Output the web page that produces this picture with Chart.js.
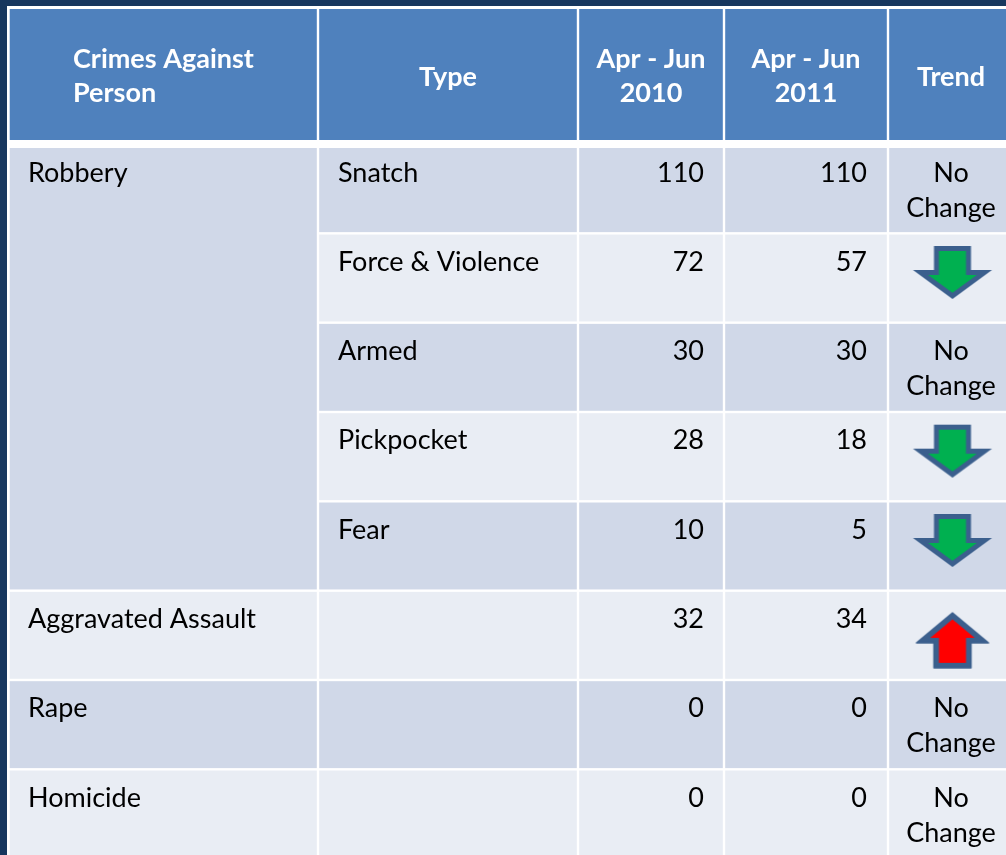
<!DOCTYPE html>
<html>
<head>
<meta charset="utf-8">
<script src="https://cdn.jsdelivr.net/npm/chart.js@4.4.0/dist/chart.umd.min.js"></script>
<style>
  html, body { margin: 0; padding: 0; background: #17375e; overflow: hidden; }
  #tbl { display: block; }
</style>
</head>
<body>
<canvas id="tbl" width="1006" height="855"></canvas>
<script>
/* ---------- DATA ---------- */
const headers = [["Crimes Against", "Person"], ["Type"], ["Apr - Jun", "2010"], ["Apr - Jun", "2011"], ["Trend"]];
const categories = ["Robbery", "Robbery", "Robbery", "Robbery", "Robbery", "Aggravated Assault", "Rape", "Homicide"];
const types = ["Snatch", "Force & Violence", "Armed", "Pickpocket", "Fear", "", "", ""];
const apr2010 = [110, 72, 30, 28, 10, 32, 0, 0];
const apr2011 = [110, 57, 30, 18, 5, 34, 0, 0];
const trends = ["No Change", "down", "No Change", "down", "down", "up", "No Change", "No Change"];

/* ---------- LAYOUT ---------- */
const W = 1006, H = 855;
const NAVY = "#17375e", HEAD = "#4f81bd", ROW_A = "#d0d8e8", ROW_B = "#e9edf4";
const colLines = [8.5, 318, 578, 724, 888, 1014];
const headTop = 9, headLine = 144, headGap = 4, rowPitch = 89.33, half = 1.2;
const FONT = "27px Lato", FONT_B = "bold 27px Lato";

const rowLine = k => headLine + k * rowPitch;
const rowTop = k => (k === 0 ? headLine + headGap : rowLine(k) + half);
const rowBottom = k => rowLine(k + 1) - half;
const rowMid = k => (rowLine(k) + rowLine(k + 1)) / 2;
const colMid = c => (colLines[c] + colLines[c + 1]) / 2;

/* ---------- ARROWS ---------- */
function poly(ctx, cx, pts) {
  ctx.beginPath();
  pts.forEach(([px, py], i) => (i ? ctx.lineTo(cx + px, py) : ctx.moveTo(cx + px, py)));
  ctx.closePath();
}

function makeArrow(dir) {
  const c = document.createElement("canvas");
  c.width = 86; c.height = 60;
  const g = c.getContext("2d");
  const cx = 43;
  g.translate(0, 3);
  g.fillStyle = "#3b5f8d";
  g.strokeStyle = "#3b5f8d";
  g.lineJoin = "round";
  g.lineWidth = 1.5;
  if (dir === "down") {
    poly(g, cx, [[-18.5, 0], [18.5, 0], [18.5, 24], [39.5, 24], [0, 53], [-39.5, 24], [-18.5, 24]]);
    g.fill();
    g.fillStyle = "#00b050";
    poly(g, cx, [[-13.5, 5], [13.5, 5], [13.5, 29], [24.3, 29], [0, 46.8], [-24.3, 29], [-13.5, 29]]);
    g.fill();
  } else {
    poly(g, cx, [[0, 0], [36, 30], [18.5, 30], [18.5, 55], [-18.5, 55], [-18.5, 30], [-36, 30]]);
    g.fill(); g.stroke();
    g.fillStyle = "#ff0000";
    poly(g, cx, [[0, 6.5], [22.2, 25], [13.5, 25], [13.5, 50], [-13.5, 50], [-13.5, 25], [-22.2, 25]]);
    g.fill();
  }
  return c;
}

const trendX = colMid(4) + 1.5;
const arrowPoints = (dir, dy) =>
  trends.map((t, i) => (t === dir ? { x: trendX, y: rowMid(i) + dy } : null)).filter(p => p);

/* ---------- TABLE PLUGIN ---------- */
const tablePlugin = {
  id: "tableDraw",
  beforeDatasetsDraw(chart) {
    const { ctx, scales: { x, y } } = chart;
    const px = v => x.getPixelForValue(v);
    const py = v => y.getPixelForValue(v);
    const cell = (c0, c1, y0, y1, color) => {
      ctx.fillStyle = color;
      ctx.fillRect(px(colLines[c0] + half), py(y0), px(colLines[c1] - half) - px(colLines[c0] + half), py(y1) - py(y0));
    };

    ctx.save();
    ctx.fillStyle = NAVY;
    ctx.fillRect(0, 0, chart.width, chart.height);
    ctx.fillStyle = "#ffffff";
    ctx.fillRect(px(7), py(6), px(W + 20) - px(7), py(H + 20) - py(6));

    // header
    for (let c = 0; c < headers.length; c++) cell(c, c + 1, headTop, headLine - headGap, HEAD);

    // body cells
    const n = categories.length;
    let k = 0;
    while (k < n) {
      let span = 1;
      while (k + span < n && categories[k + span] === categories[k]) span++;
      cell(0, 1, rowTop(k), rowBottom(k + span - 1), k % 2 ? ROW_B : ROW_A);
      k += span;
    }
    for (let r = 0; r < n; r++) {
      for (let c = 1; c < 5; c++) cell(c, c + 1, rowTop(r), rowBottom(r), r % 2 ? ROW_B : ROW_A);
    }

    // header text
    ctx.fillStyle = "#ffffff";
    ctx.font = FONT_B;
    ctx.textBaseline = "alphabetic";
    headers.forEach((lines, c) => {
      const base = lines.length === 2 ? [68, 102] : [86];
      lines.forEach((t, j) => {
        if (c === 0) {
          ctx.textAlign = "left";
          ctx.fillText(t, px(colLines[0] + 64.5), py(base[j]));
        } else {
          ctx.textAlign = "center";
          ctx.fillText(t, px(colMid(c)), py(base[j]));
        }
      });
    });

    // body text
    ctx.fillStyle = "#000000";
    ctx.font = FONT;
    for (let r = 0; r < n; r++) {
      const b = rowLine(r) + 37.5;
      if (r === 0 || categories[r] !== categories[r - 1]) {
        ctx.textAlign = "left";
        ctx.fillText(categories[r], px(colLines[0] + 19.5), py(b));
      }
      ctx.textAlign = "left";
      ctx.fillText(types[r], px(colLines[1] + 20), py(b));
      ctx.textAlign = "right";
      ctx.fillText(String(apr2010[r]), px(colLines[3] - 20), py(b));
      ctx.fillText(String(apr2011[r]), px(colLines[4] - 21), py(b));
      if (trends[r] === "No Change") {
        ctx.textAlign = "center";
        ctx.fillText("No", px(colMid(4)), py(b));
        ctx.fillText("Change", px(colMid(4)), py(b + 35));
      }
    }
    ctx.restore();
  }
};

/* ---------- CHART ---------- */
function build() {
  new Chart(document.getElementById("tbl"), {
    type: "scatter",
    data: {
      datasets: [
        { label: "Down", data: arrowPoints("down", -5), pointStyle: makeArrow("down"), pointRadius: 1, clip: false },
        { label: "Up", data: arrowPoints("up", 4.5), pointStyle: makeArrow("up"), pointRadius: 1, clip: false }
      ]
    },
    options: {
      responsive: false,
      animation: false,
      devicePixelRatio: 1,
      layout: { padding: 0, autoPadding: false },
      plugins: { legend: { display: false }, tooltip: { enabled: false } },
      scales: {
        x: { type: "linear", min: 0, max: W, display: false },
        y: { type: "linear", min: 0, max: H, reverse: true, display: false }
      }
    },
    plugins: [tablePlugin]
  });
}

Promise.all([document.fonts.load(FONT), document.fonts.load(FONT_B)]).then(build, build);
</script>
</body>
</html>
